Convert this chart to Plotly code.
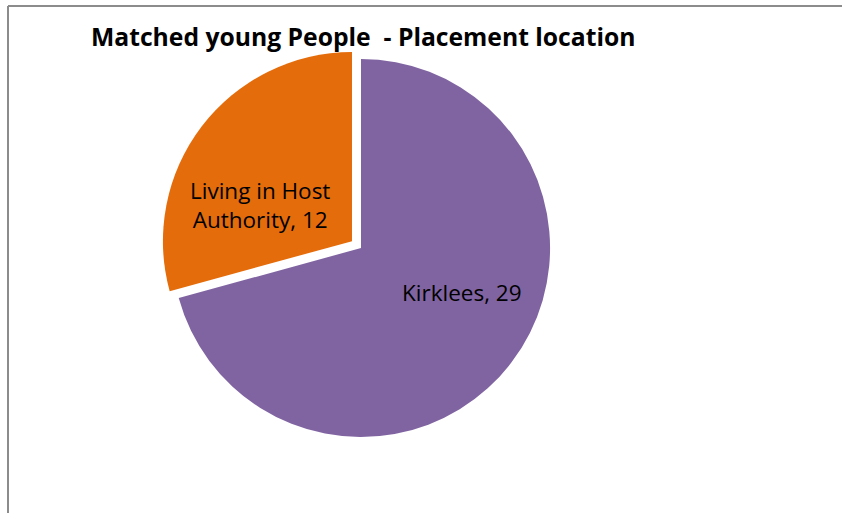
import plotly.graph_objects as go

# Placement location of matched young people
labels = ["Kirklees", "Living in Host Authority"]
values = [29, 12]
colors = ["#8064A2", "#E46C0A"]
pulls = [0.0, 0.06]

W, H = 842, 513
FONT = "'Open Sans', Lato, sans-serif"

fig = go.Figure(
    go.Pie(
        labels=labels,
        values=values,
        marker=dict(colors=colors, line=dict(width=0)),
        pull=pulls,
        sort=False,
        direction="clockwise",
        rotation=0,
        textinfo="none",
        hoverinfo="label+value",
        showlegend=False,
        domain=dict(x=[0.1907, 0.6668], y=[0.1259, 0.9072]),
    )
)

# Data labels placed inside each slice
label_pos = [(462, 292), (260, 205)]
label_text = [
    labels[0] + ", " + str(values[0]),
    "Living in Host<br>Authority, " + str(values[1]),
]
annotations = []
for (px, py), txt in zip(label_pos, label_text):
    annotations.append(
        dict(
            x=px / W, y=1 - py / H, xref="paper", yref="paper",
            text=txt, showarrow=False, xanchor="center", yanchor="middle",
            font=dict(family=FONT, size=22.5, color="#000000"),
        )
    )

# Chart title
annotations.append(
    dict(
        x=89 / W, y=1 - 36 / H, xref="paper", yref="paper",
        text="<b>Matched young People&nbsp;&nbsp;- Placement location</b>",
        showarrow=False, xanchor="left", yanchor="middle",
        font=dict(family=FONT, size=24.7, color="#000000"),
    )
)

# Chart-area border (top and left edges)
shapes = [
    dict(type="line", xref="paper", yref="paper",
         x0=8 / W, y0=1 - 6 / H, x1=1.0, y1=1 - 6 / H,
         line=dict(color="#8C8C8C", width=2)),
    dict(type="line", xref="paper", yref="paper",
         x0=8 / W, y0=1 - 6 / H, x1=8 / W, y1=0.0,
         line=dict(color="#8C8C8C", width=2)),
]

fig.update_layout(
    width=W, height=H,
    margin=dict(l=0, r=0, t=0, b=0),
    paper_bgcolor="#FFFFFF",
    plot_bgcolor="#FFFFFF",
    annotations=annotations,
    shapes=shapes,
)

fig.write_html("out.html")
